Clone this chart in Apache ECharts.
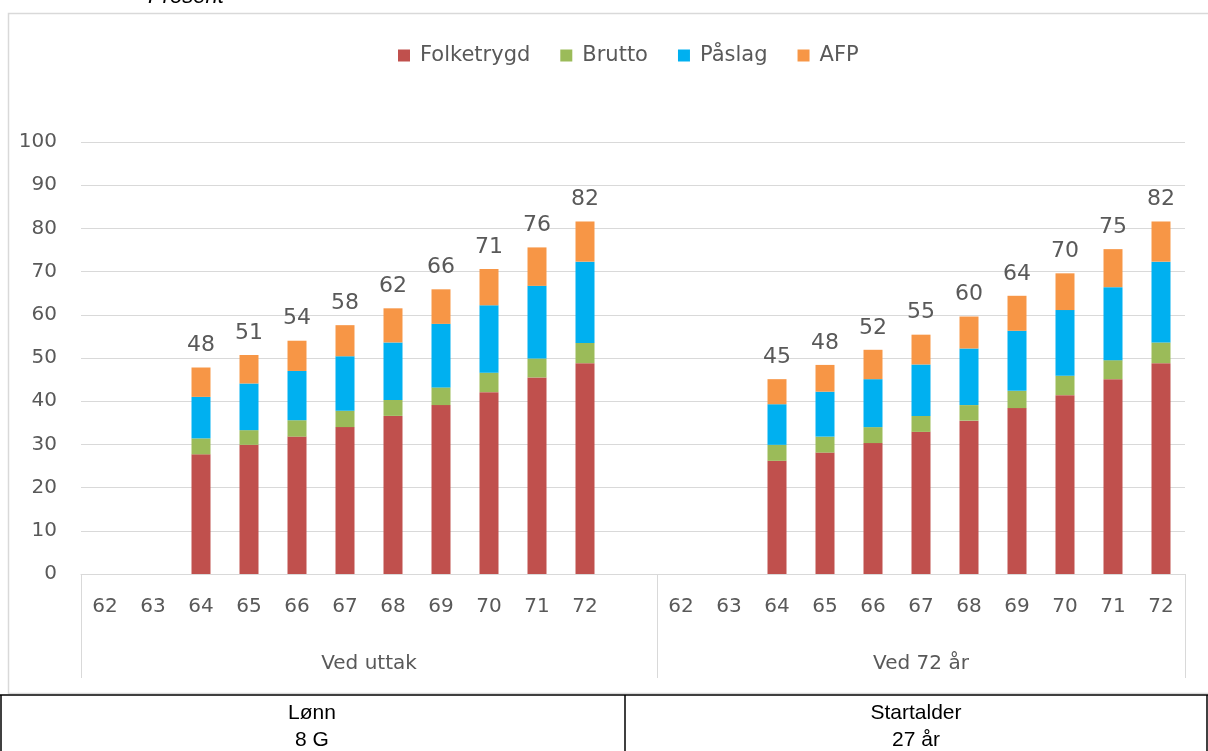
<!DOCTYPE html>
<html>
<head>
<meta charset="utf-8">
<script src="https://cdn.jsdelivr.net/npm/echarts@6/dist/echarts.min.js"></script>
<style>
html,body{margin:0;padding:0;background:#fff;}
#chart{width:1208px;height:751px;}
</style>
</head>
<body>
<div id="chart"></div>
<script>
// ---- Data ----
const ages = ['62','63','64','65','66','67','68','69','70','71','72'];
const groups = ['Ved uttak','Ved 72 år'];
const seriesNames = ['Folketrygd','Brutto','Påslag','AFP'];

const folketrygdUttak = [null,null,27.7,29.9,31.8,34.0,36.6,39.1,42.1,45.5,48.8];
const bruttoUttak     = [null,null,3.7,3.4,3.8,3.8,3.7,4.1,4.5,4.4,4.7];
const paslagUttak     = [null,null,9.6,10.8,11.4,12.6,13.3,14.7,15.6,16.8,18.8];
const afpUttak        = [null,null,6.8,6.6,7.0,7.2,7.9,8.0,8.4,8.9,9.3];
const totalUttak      = [null,null,48,51,54,58,62,66,71,76,82];

const folketrygd72 = [null,null,26.2,28.1,30.3,32.9,35.5,38.4,41.4,45.1,48.8];
const brutto72     = [null,null,3.7,3.7,3.7,3.7,3.6,4.0,4.5,4.4,4.8];
const paslag72     = [null,null,9.4,10.4,11.1,11.9,13.1,13.9,15.2,16.9,18.7];
const afp72        = [null,null,5.8,6.2,6.8,6.9,7.4,8.1,8.5,8.8,9.3];
const total72      = [null,null,45,48,52,55,60,64,70,75,82];

const yTicks = [0,10,20,30,40,50,60,70,80,90,100];
const tableHeads = ['Lønn','Startalder'];
const tableValues = ['8 G','27 år'];
const yTitle = 'Prosent';

// ---- Build ----
const categories = ages.concat(['']).concat(ages);
const join = (a, b) => a.concat([null]).concat(b);
const colors = ['#C0504D','#9BBB59','#00B0F0','#F79646'];
const seriesData = [
  join(folketrygdUttak, folketrygd72),
  join(bruttoUttak, brutto72),
  join(paslagUttak, paslag72),
  join(afpUttak, afp72)
];
const totals = join(totalUttak, total72);
const FONT = 'DejaVu Sans';
const TXT = '#595959';

const series = seriesNames.map((name, i) => {
  const s = {
    name: name,
    type: 'bar',
    stack: 'total',
    xAxisIndex: 0,
    barWidth: 19,
    itemStyle: { color: colors[i] },
    data: seriesData[i]
  };
  if (i === seriesNames.length - 1) {
    s.label = {
      show: true,
      position: 'top',
      distance: 11,
      fontFamily: FONT,
      fontSize: 22,
      color: TXT,
      formatter: p => totals[p.dataIndex] == null ? '' : String(totals[p.dataIndex])
    };
  }
  return s;
});

const chart = echarts.init(document.getElementById('chart'), null, { renderer: 'canvas' });
chart.setOption({
  animation: false,
  backgroundColor: '#fff',
  legend: {
    data: seriesNames,
    top: 40,
    left: 393,
    itemWidth: 12,
    itemHeight: 12,
    itemGap: 30,
    icon: 'rect',
    textStyle: { fontFamily: FONT, fontSize: 21, color: TXT, padding: [0,0,0,5] }
  },
  grid: { left: 81, right: 23, top: 142, bottom: 177, containLabel: false },
  xAxis: [
    {
      type: 'category',
      data: categories,
      axisLine: { lineStyle: { color: '#D9D9D9', width: 1 } },
      axisTick: { show: false },
      axisLabel: { interval: 0, margin: 23, fontFamily: FONT, fontSize: 20, color: TXT }
    },
    {
      type: 'value',
      min: 0,
      max: categories.length,
      position: 'bottom',
      axisLine: { show: false },
      splitLine: { show: false },
      axisTick: { show: true, customValues: [0, ages.length + 1, categories.length], length: 104, lineStyle: { color: '#D9D9D9', width: 1 } },
      axisLabel: {
        customValues: [(ages.length + 1) / 2, ages.length + 1 + ages.length / 2],
        margin: 80,
        fontFamily: FONT, fontSize: 20, color: TXT,
        formatter: v => v < ages.length + 1 ? groups[0] : groups[1]
      }
    }
  ],
  yAxis: {
    type: 'value',
    min: yTicks[0],
    max: yTicks[yTicks.length - 1],
    interval: yTicks[1] - yTicks[0],
    axisLine: { show: false },
    axisTick: { show: false },
    splitLine: { lineStyle: { color: '#D9D9D9', width: 1 } },
    axisLabel: { margin: 24, fontFamily: FONT, fontSize: 20, color: TXT }
  },
  graphic: [
    { type: 'rect', shape: { x: 8.5, y: 13.5, width: 1220, height: 680 }, style: { fill: 'none', stroke: '#D9D9D9', lineWidth: 1.5 }, z: -1 },
    { type: 'text', left: 148, top: -14, style: { text: yTitle, font: 'italic 22px "Liberation Sans"', fill: '#000' } },
    { type: 'rect', shape: { x: 0, y: 694.5, width: 1208, height: 60 }, style: { fill: '#fff', stroke: 'none' } },
    { type: 'line', shape: { x1: 0, y1: 695, x2: 1208, y2: 695 }, style: { stroke: '#000', lineWidth: 1.5 } },
    { type: 'line', shape: { x1: 1, y1: 695, x2: 1, y2: 751 }, style: { stroke: '#000', lineWidth: 1.5 } },
    { type: 'line', shape: { x1: 625, y1: 695, x2: 625, y2: 751 }, style: { stroke: '#000', lineWidth: 1.5 } },
    { type: 'line', shape: { x1: 1207, y1: 695, x2: 1207, y2: 751 }, style: { stroke: '#000', lineWidth: 1.5 } },
    { type: 'text', x: 312, y: 713, style: { text: tableHeads[0], font: '21px "Liberation Sans"', fill: '#000', align: 'center', verticalAlign: 'middle' } },
    { type: 'text', x: 312, y: 740, style: { text: tableValues[0], font: '21px "Liberation Sans"', fill: '#000', align: 'center', verticalAlign: 'middle' } },
    { type: 'text', x: 916, y: 713, style: { text: tableHeads[1], font: '21px "Liberation Sans"', fill: '#000', align: 'center', verticalAlign: 'middle' } },
    { type: 'text', x: 916, y: 740, style: { text: tableValues[1], font: '21px "Liberation Sans"', fill: '#000', align: 'center', verticalAlign: 'middle' } }
  ],
  series: series
});
</script>
</body>
</html>
